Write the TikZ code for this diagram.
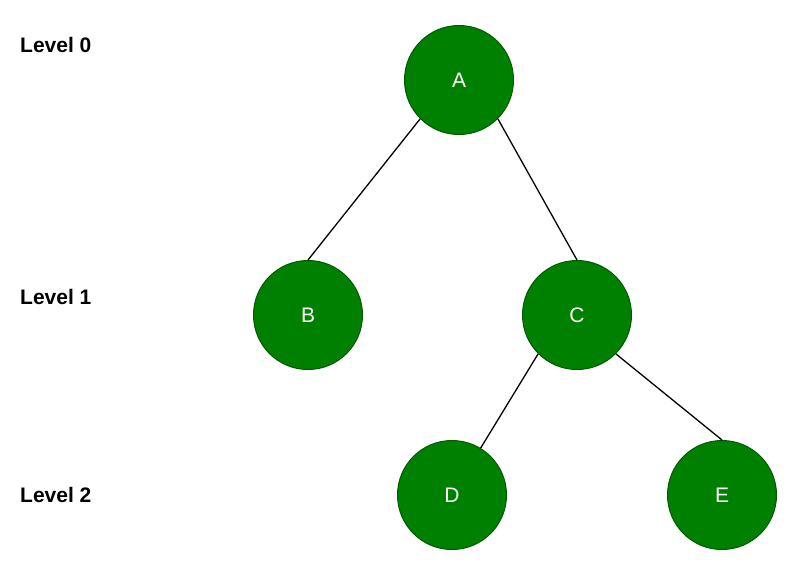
\documentclass[tikz,border=0pt]{standalone}
\usepackage{fontspec}
\setmainfont{Liberation Sans}
\usepackage{xcolor}
\usepackage{tikz}
\definecolor{treegreen}{HTML}{008000}
\definecolor{treeedge}{HTML}{005A00}

\begin{document}
\begin{tikzpicture}[
  x=1pt, y=-1pt,
  vertex/.style={circle, draw=treeedge, fill=treegreen, line width=1pt, minimum size=109pt, inner sep=0pt, text=white, font=\fontsize{21}{25}\selectfont},
  levellabel/.style={anchor=west, inner sep=0pt, font=\fontsize{21}{25}\selectfont\bfseries},
  edge/.style={draw=black, line width=1.3pt}
]
\useasboundingbox (0,0) rectangle (789,563);
% level captions
\node[levellabel] (lvl0) at (20,45) {Level 0};
\node[levellabel] (lvl1) at (20,297) {Level 1};
\node[levellabel] (lvl2) at (20,495) {Level 2};
% tree
\node[vertex] (A) at (459,80) {A};
\node[vertex] (B) at (308,315) {B};
\node[vertex] (C) at (577,315) {C};
\node[vertex] (D) at (452,495) {D};
\node[vertex] (E) at (722,495) {E};
\begin{scope}[on background layer/.try]
\draw[edge] (A.south west) -- (B.north);
\draw[edge] (A.south east) -- (C.north);
\draw[edge] (C.south west) -- (D);
\draw[edge] (C.south east) -- (E.north);
\end{scope}
\end{tikzpicture}
\end{document}
